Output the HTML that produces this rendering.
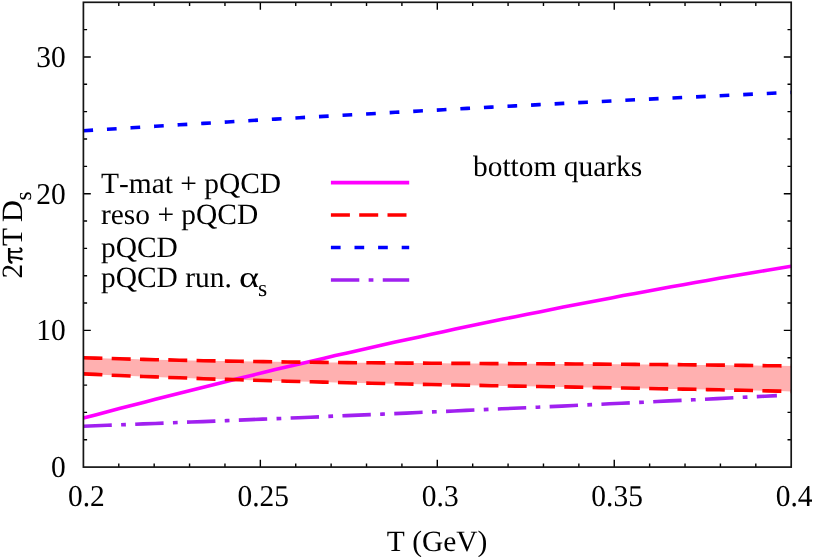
<!DOCTYPE html>
<html><head><meta charset="utf-8"><title>chart</title>
<style>
html,body{margin:0;padding:0;background:#fff;}
body{width:814px;height:557px;overflow:hidden;}
svg{display:block;will-change:transform;}
text{font-family:"Liberation Serif",serif;fill:#000;text-rendering:geometricPrecision;font-kerning:none;}
</style></head><body>
<svg width="814" height="557" viewBox="0 0 814 557">
<rect width="814" height="557" fill="#fff"/>
<path d="M118.79 467.10v-3.7M118.79 2.30v3.7M154.18 467.10v-3.7M154.18 2.30v3.7M189.57 467.10v-3.7M189.57 2.30v3.7M224.96 467.10v-3.7M224.96 2.30v3.7M260.35 467.10v-7.4M260.35 2.30v7.4M295.74 467.10v-3.7M295.74 2.30v3.7M331.13 467.10v-3.7M331.13 2.30v3.7M366.52 467.10v-3.7M366.52 2.30v3.7M401.91 467.10v-3.7M401.91 2.30v3.7M437.30 467.10v-7.4M437.30 2.30v7.4M472.69 467.10v-3.7M472.69 2.30v3.7M508.08 467.10v-3.7M508.08 2.30v3.7M543.47 467.10v-3.7M543.47 2.30v3.7M578.86 467.10v-3.7M578.86 2.30v3.7M614.25 467.10v-7.4M614.25 2.30v7.4M649.64 467.10v-3.7M649.64 2.30v3.7M685.03 467.10v-3.7M685.03 2.30v3.7M720.42 467.10v-3.7M720.42 2.30v3.7M755.81 467.10v-3.7M755.81 2.30v3.7M83.40 439.76h3.7M791.20 439.76h-3.7M83.40 412.42h3.7M791.20 412.42h-3.7M83.40 385.08h3.7M791.20 385.08h-3.7M83.40 357.74h3.7M791.20 357.74h-3.7M83.40 330.39h7.4M791.20 330.39h-7.4M83.40 303.05h3.7M791.20 303.05h-3.7M83.40 275.71h3.7M791.20 275.71h-3.7M83.40 248.37h3.7M791.20 248.37h-3.7M83.40 221.03h3.7M791.20 221.03h-3.7M83.40 193.69h7.4M791.20 193.69h-7.4M83.40 166.35h3.7M791.20 166.35h-3.7M83.40 139.01h3.7M791.20 139.01h-3.7M83.40 111.66h3.7M791.20 111.66h-3.7M83.40 84.32h3.7M791.20 84.32h-3.7M83.40 56.98h7.4M791.20 56.98h-7.4M83.40 29.64h3.7M791.20 29.64h-3.7" stroke="#000" stroke-width="1.4" fill="none"/>
<polygon points="83.4,357.7 95.4,358.1 107.4,358.4 119.4,358.8 131.4,359.1 143.4,359.4 155.4,359.7 167.4,359.9 179.4,360.2 191.4,360.4 203.4,360.7 215.4,360.9 227.4,361.1 239.4,361.3 251.4,361.5 263.3,361.6 275.3,361.8 287.3,362.0 299.3,362.1 311.3,362.2 323.3,362.4 335.3,362.5 347.3,362.6 359.3,362.7 371.3,362.8 383.3,362.9 395.3,363.0 407.3,363.1 419.3,363.1 431.3,363.2 443.3,363.3 455.3,363.4 467.3,363.4 479.3,363.5 491.3,363.6 503.3,363.6 515.3,363.7 527.3,363.8 539.3,363.8 551.3,363.9 563.3,363.9 575.3,364.0 587.3,364.1 599.3,364.1 611.3,364.2 623.2,364.3 635.2,364.4 647.2,364.5 659.2,364.5 671.2,364.6 683.2,364.7 695.2,364.9 707.2,365.0 719.2,365.1 731.2,365.2 743.2,365.4 755.2,365.5 767.2,365.7 779.2,365.8 791.2,366.0 791.2,391.4 779.2,391.1 767.2,390.9 755.2,390.6 743.2,390.3 731.2,390.1 719.2,389.8 707.2,389.6 695.2,389.3 683.2,389.1 671.2,388.9 659.2,388.7 647.2,388.4 635.2,388.2 623.2,388.0 611.3,387.8 599.3,387.6 587.3,387.4 575.3,387.1 563.3,386.9 551.3,386.7 539.3,386.5 527.3,386.3 515.3,386.1 503.3,385.9 491.3,385.7 479.3,385.4 467.3,385.2 455.3,385.0 443.3,384.8 431.3,384.5 419.3,384.3 407.3,384.0 395.3,383.8 383.3,383.5 371.3,383.3 359.3,383.0 347.3,382.7 335.3,382.4 323.3,382.1 311.3,381.8 299.3,381.5 287.3,381.2 275.3,380.9 263.3,380.5 251.4,380.2 239.4,379.8 227.4,379.4 215.4,379.1 203.4,378.7 191.4,378.2 179.4,377.8 167.4,377.4 155.4,376.9 143.4,376.5 131.4,376.0 119.4,375.5 107.4,375.0 95.4,374.4 83.4,373.9" fill="#ffb0b0"/>
<polyline points="83.4,418.1 95.4,414.9 107.4,411.7 119.4,408.6 131.4,405.5 143.4,402.4 155.4,399.3 167.4,396.2 179.4,393.2 191.4,390.2 203.4,387.2 215.4,384.2 227.4,381.3 239.4,378.3 251.4,375.4 263.3,372.5 275.3,369.6 287.3,366.8 299.3,364.0 311.3,361.2 323.3,358.4 335.3,355.6 347.3,352.9 359.3,350.2 371.3,347.5 383.3,344.8 395.3,342.1 407.3,339.5 419.3,336.9 431.3,334.3 443.3,331.7 455.3,329.1 467.3,326.6 479.3,324.1 491.3,321.6 503.3,319.1 515.3,316.7 527.3,314.3 539.3,311.9 551.3,309.5 563.3,307.1 575.3,304.8 587.3,302.5 599.3,300.2 611.3,297.9 623.2,295.6 635.2,293.4 647.2,291.2 659.2,289.0 671.2,286.8 683.2,284.7 695.2,282.5 707.2,280.4 719.2,278.3 731.2,276.3 743.2,274.2 755.2,272.2 767.2,270.2 779.2,268.2 791.2,266.3" fill="none" stroke="#ff00ff" stroke-width="3.6"/>
<polyline points="83.4,357.7 95.4,358.1 107.4,358.4 119.4,358.8 131.4,359.1 143.4,359.4 155.4,359.7 167.4,359.9 179.4,360.2 191.4,360.4 203.4,360.7 215.4,360.9 227.4,361.1 239.4,361.3 251.4,361.5 263.3,361.6 275.3,361.8 287.3,362.0 299.3,362.1 311.3,362.2 323.3,362.4 335.3,362.5 347.3,362.6 359.3,362.7 371.3,362.8 383.3,362.9 395.3,363.0 407.3,363.1 419.3,363.1 431.3,363.2 443.3,363.3 455.3,363.4 467.3,363.4 479.3,363.5 491.3,363.6 503.3,363.6 515.3,363.7 527.3,363.8 539.3,363.8 551.3,363.9 563.3,363.9 575.3,364.0 587.3,364.1 599.3,364.1 611.3,364.2 623.2,364.3 635.2,364.4 647.2,364.5 659.2,364.5 671.2,364.6 683.2,364.7 695.2,364.9 707.2,365.0 719.2,365.1 731.2,365.2 743.2,365.4 755.2,365.5 767.2,365.7 779.2,365.8 791.2,366.0" fill="none" stroke="#ff0000" stroke-width="3.6" stroke-dasharray="19 9.3"/>
<polyline points="83.4,373.9 95.4,374.4 107.4,375.0 119.4,375.5 131.4,376.0 143.4,376.5 155.4,376.9 167.4,377.4 179.4,377.8 191.4,378.2 203.4,378.7 215.4,379.1 227.4,379.4 239.4,379.8 251.4,380.2 263.3,380.5 275.3,380.9 287.3,381.2 299.3,381.5 311.3,381.8 323.3,382.1 335.3,382.4 347.3,382.7 359.3,383.0 371.3,383.3 383.3,383.5 395.3,383.8 407.3,384.0 419.3,384.3 431.3,384.5 443.3,384.8 455.3,385.0 467.3,385.2 479.3,385.4 491.3,385.7 503.3,385.9 515.3,386.1 527.3,386.3 539.3,386.5 551.3,386.7 563.3,386.9 575.3,387.1 587.3,387.4 599.3,387.6 611.3,387.8 623.2,388.0 635.2,388.2 647.2,388.4 659.2,388.7 671.2,388.9 683.2,389.1 695.2,389.3 707.2,389.6 719.2,389.8 731.2,390.1 743.2,390.3 755.2,390.6 767.2,390.9 779.2,391.1 791.2,391.4" fill="none" stroke="#ff0000" stroke-width="3.6" stroke-dasharray="19 9.3"/>
<polyline points="83.4,130.8 95.4,130.0 107.4,129.3 119.4,128.5 131.4,127.8 143.4,127.0 155.4,126.3 167.4,125.6 179.4,124.8 191.4,124.1 203.4,123.4 215.4,122.7 227.4,122.0 239.4,121.2 251.4,120.5 263.3,119.8 275.3,119.1 287.3,118.4 299.3,117.7 311.3,117.1 323.3,116.4 335.3,115.7 347.3,115.0 359.3,114.3 371.3,113.7 383.3,113.0 395.3,112.3 407.3,111.7 419.3,111.0 431.3,110.4 443.3,109.7 455.3,109.1 467.3,108.4 479.3,107.8 491.3,107.1 503.3,106.5 515.3,105.9 527.3,105.3 539.3,104.6 551.3,104.0 563.3,103.4 575.3,102.8 587.3,102.2 599.3,101.6 611.3,101.0 623.2,100.4 635.2,99.8 647.2,99.2 659.2,98.6 671.2,98.0 683.2,97.4 695.2,96.9 707.2,96.3 719.2,95.7 731.2,95.2 743.2,94.6 755.2,94.0 767.2,93.5 779.2,92.9 791.2,92.4" fill="none" stroke="#0000ff" stroke-width="3.6" stroke-dasharray="9.7 13.9"/>
<polyline points="83.4,426.2 95.4,425.8 107.3,425.3 119.3,424.9 131.2,424.4 143.2,423.9 155.1,423.5 167.1,423.0 179.1,422.5 191.0,422.0 203.0,421.6 214.9,421.1 226.9,420.6 238.8,420.1 250.8,419.6 262.8,419.1 274.7,418.7 286.7,418.2 298.6,417.7 310.6,417.2 322.5,416.7 334.5,416.1 346.5,415.6 358.4,415.1 370.4,414.6 382.3,414.1 394.3,413.6 406.2,413.1 418.2,412.5 430.1,412.0 442.1,411.5 454.1,411.0 466.0,410.4 478.0,409.9 489.9,409.3 501.9,408.8 513.8,408.3 525.8,407.7 537.8,407.2 549.7,406.6 561.7,406.1 573.6,405.5 585.6,404.9 597.5,404.4 609.5,403.8 621.5,403.2 633.4,402.7 645.4,402.1 657.3,401.5 669.3,400.9 681.2,400.4 693.2,399.8 705.2,399.2 717.1,398.6 729.1,398.0 741.0,397.4 753.0,396.8 764.9,396.2 776.9,395.6" fill="none" stroke="#a020f0" stroke-width="3.6" stroke-dasharray="28.4 9.35 4.75 9.35"/>
<line x1="330.9" x2="409.2" y1="182.6" y2="182.6" stroke="#ff00ff" stroke-width="3.6"/>
<line x1="330.9" x2="409.2" y1="215.0" y2="215.0" stroke="#ff0000" stroke-width="3.6" stroke-dasharray="19 9.3"/>
<line x1="330.9" x2="409.2" y1="247.5" y2="247.5" stroke="#0000ff" stroke-width="3.6" stroke-dasharray="9.7 13.9"/>
<line x1="330.9" x2="409.2" y1="280.0" y2="280.0" stroke="#a020f0" stroke-width="3.6" stroke-dasharray="28.4 9.35 4.75 9.35"/>
<rect x="83.4" y="2.3" width="707.8" height="464.8" fill="none" stroke="#151515" stroke-width="1.7"/>
<g font-size="29.45">
<text transform="translate(86.3,506.1) scale(1,1.03)" text-anchor="middle">0.2</text>
<text transform="translate(263.2,506.1) scale(1,1.03)" text-anchor="middle">0.25</text>
<text transform="translate(440.2,506.1) scale(1,1.03)" text-anchor="middle">0.3</text>
<text transform="translate(617.1,506.1) scale(1,1.03)" text-anchor="middle">0.35</text>
<text transform="translate(794.1,506.1) scale(1,1.03)" text-anchor="middle">0.4</text>
<text transform="translate(65.7,477.0) scale(1,1.03)" text-anchor="end">0</text>
<text transform="translate(65.7,340.3) scale(1,1.03)" text-anchor="end">10</text>
<text transform="translate(65.7,203.6) scale(1,1.03)" text-anchor="end">20</text>
<text transform="translate(65.7,66.9) scale(1,1.03)" text-anchor="end">30</text>
<text x="437.1" y="551" text-anchor="middle">T (GeV)</text>
<text transform="translate(22.3,278.4) rotate(-90)">2</text>
<g transform="translate(22.3,263.3) rotate(-90) scale(0.02945,-0.02945)"><path d="M15,335 Q40,445 140,445 L522,445" stroke-width="84" fill="none" stroke="#000"/><path d="M205,440 C200,270 185,130 150,30" stroke-width="62" fill="none" stroke="#000"/><ellipse cx="150" cy="35" rx="48" ry="52" fill="#000"/><path d="M385,440 L385,120 Q385,22 455,22 Q505,25 520,95" stroke-width="62" fill="none" stroke="#000"/></g>
<text transform="translate(22.3,246.1) rotate(-90)">T</text>
<text transform="translate(22.3,222.3) rotate(-90) scale(1.04,1)">D</text>
<text transform="translate(31.200000000000003,200.6) rotate(-90)" font-size="23.6">s</text>
<text x="101" y="192.7">T-mat + pQCD</text>
<text x="101" y="224.2">reso + pQCD</text>
<text x="101" y="257.3">pQCD</text>
<text x="101" y="287.1">pQCD run. </text>
<text transform="translate(239,287.1) scale(1.3,1)">α</text>
<text x="258" y="295.8" font-size="23.6">s</text>
<text x="473" y="176.1">bottom quarks</text>
</g>
</svg>
</body></html>
